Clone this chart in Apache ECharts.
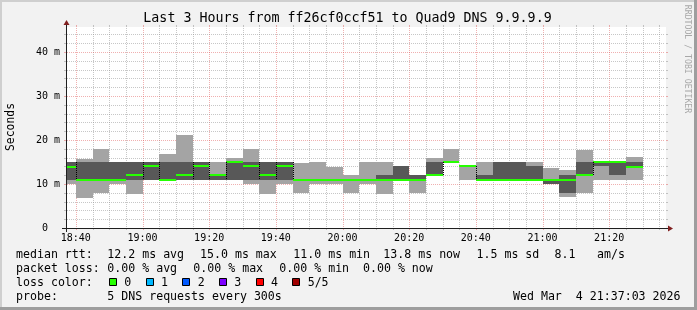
<!DOCTYPE html>
<html><head><meta charset="utf-8">
<script src="https://cdn.jsdelivr.net/npm/echarts@6/dist/echarts.min.js"></script>
<style>html,body{margin:0;padding:0;background:#f2f2f2}#c{width:697px;height:310px}</style>
</head><body><div id="c"></div>
<script>
// ---------------- data ----------------
const titleText = 'Last 3 Hours from ff26cf0ccf51 to Quad9 DNS 9.9.9.9';
const yAxisName = 'Seconds';
const watermarkText = 'RRDTOOL / TOBI OETIKER';
const windowStart = '18:37:03';
const windowEnd = '21:37:03';
const slotMinutes = 5;
const yMaxMs = 45.7;
const slotStarts = ['18:35','18:40','18:45','18:50','18:55','19:00','19:05','19:10','19:15','19:20',
  '19:25','19:30','19:35','19:40','19:45','19:50','19:55','20:00','20:05','20:10',
  '20:15','20:20','20:25','20:30','20:35','20:40','20:45','20:50','20:55','21:00',
  '21:05','21:10','21:15','21:20','21:25'];
const pingLow    = [10, 6.9, 8, 10, 7.8, 11, 11, 11, 11, 11, 11, 10.1, 7.8, 10, 7.9, 10, 10, 7.9, 10, 7.8, 11, 8, 12, 15, 11, 11, 11, 11, 11, 10, 7, 8, 11, 11, 11];
const pingQ2     = [11, 11, 11, 11, 11, 11, 11, 11, 11, 11, 11, 11, 11, 11, 11, 11, 11, 11, 11, 11, 11, 11, 12, 15, 14, 11, 11, 11, 11, 10, 8, 12, 14, 12, 13.8];
const pingMedian = [13.8, 11, 11, 11, 12, 14, 11, 12, 14, 12, 15, 14, 12, 14, 11, 11, 11, 11, 11, 11, 11, 11, 12, 15, 14, 11, 11, 11, 11, 11, 11, 12, 15, 15, 13.8];
const pingQ4     = [15, 15, 15, 15, 15, 15, 15, 15, 15, 12, 15, 15, 15, 15, 11, 11, 11, 11, 11, 12, 14, 12, 15, 15, 14, 12, 15, 15, 14, 11, 12, 15, 15, 15, 15];
const pingHigh   = [15, 15.8, 18, 15, 15, 15, 16.9, 21.1, 15, 15, 16, 18, 15, 15, 14.8, 15, 13.9, 12, 15, 15, 14, 12, 16, 18, 14, 15, 15, 15, 15, 13.7, 13.3, 17.8, 15, 15, 16.2];
const lossCount  = [0,0,0,0,0,0,0,0,0,0,0,0,0,0,0,0,0,0,0,0,0,0,0,0,0,0,0,0,0,0,0,0,0,0,0];
const xTickLabels = ['18:40','19:00','19:20','19:40','20:00','20:20','20:40','21:00','21:20'];
const yTickValues = [0, 10, 20, 30, 40];
const legendRtt = ['median rtt:', '12.2 ms avg', '15.0 ms max', '11.0 ms min', '13.8 ms now', '1.5 ms sd', '8.1', 'am/s'];
const legendLoss = ['packet loss:', '0.00 % avg', '0.00 % max', '0.00 % min', '0.00 % now'];
const lossColorLabel = 'loss color:';
const lossLegend = ['0', '1', '2', '3', '4', '5/5'];
const probeLabel = 'probe:';
const probeText = '5 DNS requests every 300s';
const stampText = 'Wed Mar  4 21:37:03 2026';

// ---------------- styles / layout ----------------
const lossColors = ['#26ff00', '#00b8ff', '#0059ff', '#7e00ff', '#ff0000', '#a10000'];
const MONO = '"DejaVu Sans Mono"';
const C = { back:'#f2f2f2', shadeA:'#cfcfcf', shadeB:'#9e9e9e', grid:'rgba(143,143,143,0.5)',
  mgrid:'rgba(222,79,79,0.45)', arrow:'#801f1f', axis:'#1f1f1f', font:'#000000',
  smokeOuter:'#a4a4a4', smokeInner:'#585858' };
const rttX = [16, 107.3, 200, 293.3, 383.3, 476.5, 554.5, 597];
const lossX = [16, 107.3, 193.3, 279.3, 363];
const rowY = [254.5, 268.5, 282.5, 296.5];

const toMin = s => { const p = s.split(':').map(Number); return p[0] * 60 + p[1] + (p[2] || 0) / 60; };
const fmtHM = m => { const h = Math.floor(m / 60 + 1e-9); const mm = Math.round(m - h * 60);
  return String(h).padStart(2, '0') + ':' + String(mm).padStart(2, '0'); };
const xMin = toMin(windowStart), xMax = toMin(windowEnd);

const smokeData = slotStarts.map((s, i) => {
  const p = i > 0 ? i - 1 : i;
  return [toMin(s), toMin(s) + slotMinutes, pingLow[i], pingQ2[i], pingMedian[i], pingQ4[i], pingHigh[i],
    lossCount[i], pingMedian[p], pingQ2[p], pingQ4[p], i > 0 ? 1 : 0];
});

const gridData = [];
for (let m = Math.ceil(xMin / 5) * 5; m < xMax; m += 5) gridData.push([m, 0, 0, m % 20 === 0 ? 1 : 0]);
for (let v = 2; v < yMaxMs; v += 2) gridData.push([xMin, v, 1, v % 10 === 0 ? 1 : 0]);

function renderGrid(params, api) {
  const cs = params.coordSys;
  const L = cs.x, T = cs.y, R = cs.x + cs.width, B = cs.y + cs.height;
  const major = api.value(3) === 1;
  const col = major ? C.mgrid : C.grid;
  const ch = [];
  if (api.value(2) === 0) {
    const x = Math.round(api.coord([api.value(0), 0])[0]) + 0.5;
    ch.push({type:'line', shape:{x1:x, y1:T + 1, x2:x, y2:B - 1}, style:{stroke:col, lineWidth:1, lineDash:[1,1]}});
    ch.push({type:'line', shape:{x1:x, y1:T - 2, x2:x, y2:T}, style:{stroke:col, lineWidth:1}});
    ch.push({type:'line', shape:{x1:x, y1:B, x2:x, y2:B + 2}, style:{stroke:col, lineWidth:1}});
  } else {
    const y = Math.round(api.coord([xMin, api.value(1)])[1]) + 0.5;
    ch.push({type:'line', shape:{x1:L + 1, y1:y, x2:R - 1, y2:y}, style:{stroke:col, lineWidth:1, lineDash:[1,1]}});
    ch.push({type:'line', shape:{x1:L - 2, y1:y, x2:L, y2:y}, style:{stroke:col, lineWidth:1}});
    ch.push({type:'line', shape:{x1:R, y1:y, x2:R + 2, y2:y}, style:{stroke:col, lineWidth:1}});
  }
  return {type:'group', children:ch};
}

function renderSmoke(params, api) {
  const t0 = api.value(0);
  const x0 = Math.round(api.coord([t0, 0])[0]);
  const x1 = Math.round(api.coord([api.value(1), 0])[0]);
  const Y = v => Math.round(api.coord([t0, v])[1]);
  const lo = api.value(2), q2 = api.value(3), md = api.value(4), q4 = api.value(5), hi = api.value(6);
  const loss = api.value(7), pm = api.value(8), pq2 = api.value(9), pq4 = api.value(10), hasPrev = api.value(11);
  const ch = [];
  if (hi > lo) ch.push({type:'rect', shape:{x:x0, y:Y(hi), width:x1 - x0, height:Y(lo) - Y(hi)}, style:{fill:C.smokeOuter}});
  if (q4 > q2) ch.push({type:'rect', shape:{x:x0, y:Y(q4), width:x1 - x0, height:Y(q2) - Y(q4)}, style:{fill:C.smokeInner}});
  ch.push({type:'rect', shape:{x:x0, y:Y(md) - 1, width:x1 - x0, height:2}, style:{fill:lossColors[Math.min(loss, 5)]}});
  if (hasPrev && Math.abs(md - pm) >= 2) {
    ch.push({type:'line', shape:{x1:x0 + 0.5, y1:Y(Math.max(q4, pq4)), x2:x0 + 0.5, y2:Y(Math.min(q2, pq2))},
      style:{stroke:'#000', lineWidth:1, lineDash:[1,1]}});
  }
  return {type:'group', children:ch};
}

function renderAxes(params, api) {
  const cs = params.coordSys;
  const L = cs.x, T = cs.y, R = cs.x + cs.width, B = cs.y + cs.height;
  const xa = L + 0.5, yb = B + 0.5;
  return {type:'group', children:[
    {type:'line', shape:{x1:L - 4, y1:yb, x2:R + 4, y2:yb}, style:{stroke:C.axis, lineWidth:1}},
    {type:'line', shape:{x1:xa, y1:B + 4, x2:xa, y2:T - 4}, style:{stroke:C.axis, lineWidth:1}},
    {type:'polygon', shape:{points:[[R + 2, yb - 3], [R + 2, yb + 3], [R + 7, yb]]}, style:{fill:C.arrow}},
    {type:'polygon', shape:{points:[[xa - 3, T - 2], [xa + 3, T - 2], [xa, T - 7]]}, style:{fill:C.arrow}}
  ]};
}

// ---------------- text graphics ----------------
const font = s => s + 'px ' + MONO;
const txt = (text, x, y, size, opts) => Object.assign({type:'text', x:x, y:y, silent:true,
  style:Object.assign({text:text, font:font(size), fill:C.font, align:'left', textAlign:'left',
    verticalAlign:'middle', textVerticalAlign:'middle'}, (opts && opts.style) || {})},
  opts ? {rotation: opts.rotation || 0} : {});
const LEG = 11.6;
const graphics = [
  {type:'rect', shape:{x:0, y:0, width:697, height:2}, style:{fill:C.shadeA}, silent:true},
  {type:'rect', shape:{x:0, y:0, width:2, height:310}, style:{fill:C.shadeA}, silent:true},
  {type:'rect', shape:{x:0, y:307, width:697, height:3}, style:{fill:C.shadeB}, silent:true},
  {type:'rect', shape:{x:694, y:0, width:3, height:310}, style:{fill:C.shadeB}, silent:true},
  txt(titleText, 347.5, 19, 13.3, {style:{align:'center', textAlign:'center'}}),
  txt(yAxisName, 11, 127, 11.4, {rotation:Math.PI / 2, style:{align:'center', textAlign:'center'}}),
  txt(watermarkText, 687.5, 59, 8.2, {rotation:-Math.PI / 2, style:{align:'center', textAlign:'center', fill:'#a8a8a8'}})
];
legendRtt.forEach((t, i) => graphics.push(txt(t, rttX[i], rowY[0], LEG)));
legendLoss.forEach((t, i) => graphics.push(txt(t, lossX[i], rowY[1], LEG)));
graphics.push(txt(lossColorLabel, 16, rowY[2], LEG));
lossLegend.forEach((t, i) => {
  const bx = 109 + i * 36.67;
  graphics.push({type:'rect', shape:{x:Math.round(bx) + 0.5, y:278.5, width:7, height:7},
    style:{fill:lossColors[i], stroke:'#000', lineWidth:1}, silent:true});
  graphics.push(txt(t, bx + 15.3, rowY[2], LEG));
});
graphics.push(txt(probeLabel, 16, rowY[3], LEG));
graphics.push(txt(probeText, 107.3, rowY[3], LEG));
graphics.push(txt(stampText, 680.5, rowY[3], LEG, {style:{align:'right', textAlign:'right'}}));

// ---------------- chart ----------------
const chart = echarts.init(document.getElementById('c'), null, {renderer:'canvas'});
chart.setOption({
  animation:false,
  backgroundColor:C.back,
  grid:{left:66, top:27, width:600, height:201, show:true, backgroundColor:'#ffffff', borderWidth:0,
    containLabel:false, outerBoundsMode:'none'},
  xAxis:{type:'value', min:xMin, max:xMax,
    axisLine:{show:false}, axisTick:{show:false}, splitLine:{show:false},
    axisLabel:{customValues:xTickLabels.map(toMin), formatter:v => fmtHM(v), margin:5,
      fontFamily:'DejaVu Sans Mono', fontSize:10, color:C.font}},
  yAxis:{type:'value', min:0, max:yMaxMs, interval:10,
    axisLine:{show:false}, axisTick:{show:false}, splitLine:{show:false},
    axisLabel:{customValues:yTickValues, formatter:v => (v === 0 ? '0\u00a0\u00a0' : v + ' m'),
      margin:6, fontFamily:'DejaVu Sans Mono', fontSize:10, color:C.font}},
  series:[
    {type:'custom', name:'grid', z:1, silent:true, clip:false, renderItem:renderGrid, data:gridData,
      encode:{x:0, y:1}},
    {type:'custom', name:'smoke', z:2, silent:true, clip:true, renderItem:renderSmoke, data:smokeData,
      encode:{x:0, y:4}},
    {type:'custom', name:'axes', z:3, silent:true, clip:false, renderItem:renderAxes, data:[[xMin, 0]],
      encode:{x:0, y:1}}
  ],
  graphic:{elements:graphics}
});
</script>
</body></html>
